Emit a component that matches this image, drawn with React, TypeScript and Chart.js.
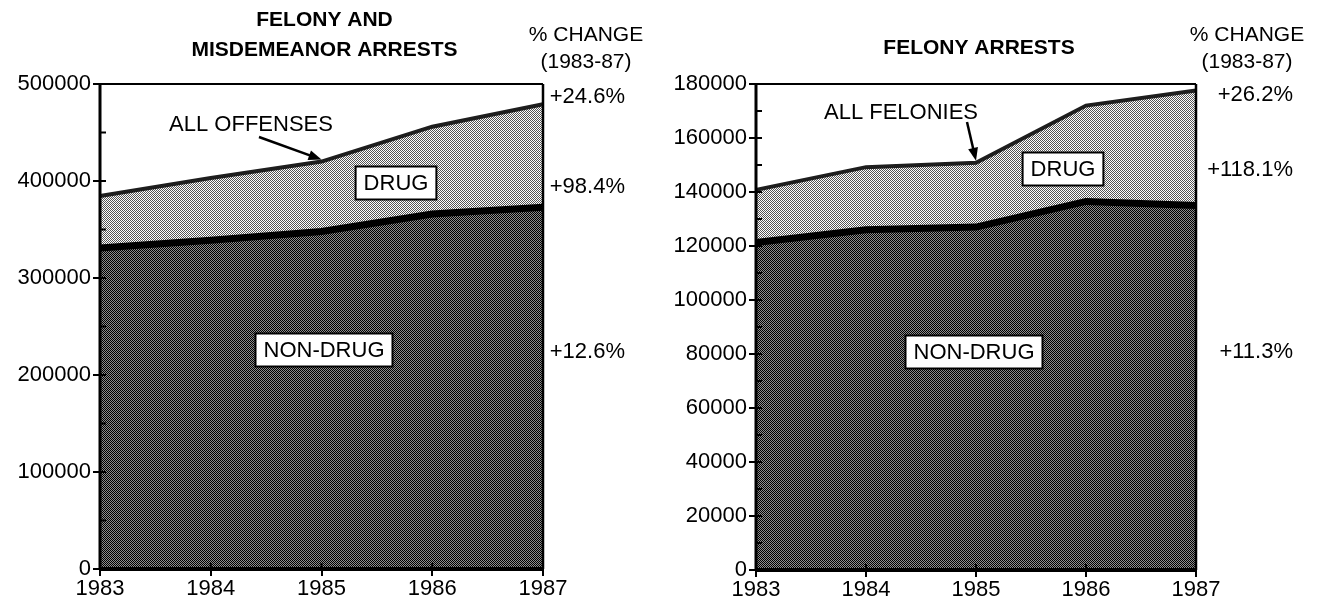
import React, { useEffect, useRef } from 'react';
import { Chart, registerables } from 'chart.js';

Chart.register(...registerables);

// ---------- data ----------
const years = ['1983', '1984', '1985', '1986', '1987'];

// Felony and misdemeanor arrests
const allNonDrug = [331000, 339000, 348000, 366000, 373000];
const allDrug = [53500, 64000, 72000, 90000, 106100];
const allChange = ['+24.6%', '+98.4%', '+12.6%'];
const allTitle = ['FELONY AND', 'MISDEMEANOR ARRESTS'];

// Felony arrests
const felNonDrug = [121300, 126000, 127000, 136500, 135000];
const felDrug = [19500, 23200, 23800, 35500, 42600];
const felChange = ['+26.2%', '+118.1%', '+11.3%'];
const felTitle = ['FELONY ARRESTS'];

const changeHeader = ['% CHANGE', '(1983-87)'];
const FONT = "'Liberation Sans', Arial, Helvetica, sans-serif";

function makePattern(a: string, b: string) {
  const c = document.createElement('canvas');
  c.width = 2;
  c.height = 2;
  const x = c.getContext('2d')!;
  x.fillStyle = b;
  x.fillRect(0, 0, 2, 2);
  x.fillStyle = a;
  x.fillRect(0, 0, 1, 1);
  x.fillRect(1, 1, 1, 1);
  return x.createPattern(c, 'repeat')!;
}

type Cfg = {
  nonDrug: number[];
  drug: number[];
  yMax: number;
  yStep: number;
  title: string[];
  titleY: number[];
  change: string[];
  changeY: number[];
  changeRight: number;
  headerX: number;
  yWidth: number;
  padRight: number;
  xHeight: number;
  nonDrugBox: [number, number];
  drugBox: [number, number];
  callout: string;
  calloutPos: [number, number];
  arrowStart: [number, number];
};

function drawBoxLabel(ctx: CanvasRenderingContext2D, text: string, cx: number, cy: number) {
  ctx.font = `22px ${FONT}`;
  const w = ctx.measureText(text).width + 16;
  const h = 33;
  ctx.fillStyle = '#fff';
  ctx.fillRect(cx - w / 2, cy - h / 2, w, h);
  ctx.strokeStyle = '#000';
  ctx.lineWidth = 2;
  ctx.strokeRect(cx - w / 2, cy - h / 2, w, h);
  ctx.fillStyle = '#000';
  ctx.textAlign = 'center';
  ctx.textBaseline = 'middle';
  ctx.fillText(text, cx, cy + 1);
}

function buildChart(canvas: HTMLCanvasElement, cfg: Cfg) {
  const dark = makePattern('#000000', '#8e8e8e');
  const light = makePattern('#555555', '#ffffff');

  const decor = {
    id: 'decor',
    afterDatasetsDraw(chart: any) {
      const { ctx, chartArea: a, scales } = chart;
      const ys = scales.y;
      const xs = scales.x;
      ctx.save();
      ctx.strokeStyle = '#000';
      ctx.lineCap = 'butt';
      // frame
      ctx.lineWidth = 2;
      ctx.beginPath();
      ctx.moveTo(a.left, a.top);
      ctx.lineTo(a.right, a.top);
      ctx.stroke();
      ctx.lineWidth = 2.5;
      ctx.beginPath();
      ctx.moveTo(a.right, a.top);
      ctx.lineTo(a.right, a.bottom);
      ctx.stroke();
      ctx.lineWidth = 3;
      ctx.beginPath();
      ctx.moveTo(a.left, a.top - 1);
      ctx.lineTo(a.left, a.bottom);
      ctx.stroke();
      ctx.lineWidth = 4;
      ctx.beginPath();
      ctx.moveTo(a.left - 1, a.bottom);
      ctx.lineTo(a.right + 1, a.bottom);
      ctx.stroke();
      // inward ticks (major + minor) on y
      ctx.lineWidth = 2;
      for (let v = 0; v <= cfg.yMax; v += cfg.yStep / 2) {
        const y = ys.getPixelForValue(v);
        ctx.beginPath();
        ctx.moveTo(a.left, y);
        ctx.lineTo(a.left + 6, y);
        ctx.stroke();
      }
      // inward ticks on x
      for (let i = 0; i < years.length; i++) {
        const x = xs.getPixelForValue(i);
        ctx.beginPath();
        ctx.moveTo(x, a.bottom);
        ctx.lineTo(x, a.bottom - 6);
        ctx.stroke();
      }

      // titles
      ctx.fillStyle = '#000';
      ctx.textAlign = 'center';
      ctx.textBaseline = 'middle';
      ctx.font = `bold 21px ${FONT}`;
      cfg.title.forEach((t, i) => ctx.fillText(t, (a.left + a.right) / 2 + 3, cfg.titleY[i]));
      ctx.font = `21px ${FONT}`;
      ctx.fillText(changeHeader[0], cfg.headerX, 35);
      ctx.fillText(changeHeader[1], cfg.headerX, 62);

      // percentage changes
      ctx.font = `22px ${FONT}`;
      ctx.textAlign = 'right';
      cfg.change.forEach((t, i) => ctx.fillText(t, cfg.changeRight, cfg.changeY[i]));

      // boxed labels
      drawBoxLabel(ctx, 'NON-DRUG', cfg.nonDrugBox[0], cfg.nonDrugBox[1]);
      drawBoxLabel(ctx, 'DRUG', cfg.drugBox[0], cfg.drugBox[1]);

      // callout
      ctx.font = `22px ${FONT}`;
      ctx.textAlign = 'center';
      ctx.fillStyle = '#000';
      ctx.fillText(cfg.callout, cfg.calloutPos[0], cfg.calloutPos[1]);
      const tx = xs.getPixelForValue(2);
      const ty = ys.getPixelForValue(cfg.nonDrug[2] + cfg.drug[2]) - 2;
      const [sx, sy] = cfg.arrowStart;
      const ang = Math.atan2(ty - sy, tx - sx);
      ctx.lineWidth = 2.5;
      ctx.beginPath();
      ctx.moveTo(sx, sy);
      ctx.lineTo(tx - Math.cos(ang) * 8, ty - Math.sin(ang) * 8);
      ctx.stroke();
      ctx.beginPath();
      ctx.moveTo(tx, ty);
      ctx.lineTo(tx - Math.cos(ang) * 13 + Math.sin(ang) * 5, ty - Math.sin(ang) * 13 - Math.cos(ang) * 5);
      ctx.lineTo(tx - Math.cos(ang) * 13 - Math.sin(ang) * 5, ty - Math.sin(ang) * 13 + Math.cos(ang) * 5);
      ctx.closePath();
      ctx.fill();
      ctx.restore();
    },
  };

  return new Chart(canvas, {
    type: 'line',
    data: {
      labels: years,
      datasets: [
        {
          label: 'NON-DRUG',
          data: cfg.nonDrug,
          fill: 'origin',
          backgroundColor: dark,
          borderColor: '#000',
          borderWidth: 7,
          pointRadius: 0,
          tension: 0,
        },
        {
          label: 'DRUG',
          data: cfg.drug,
          fill: '-1',
          backgroundColor: light,
          borderColor: '#1e1e1e',
          borderWidth: 4,
          pointRadius: 0,
          tension: 0,
        },
      ],
    },
    options: {
      animation: false,
      responsive: false,
      devicePixelRatio: 1,
      layout: { padding: { top: 84, left: 0, right: cfg.padRight, bottom: 0 } },
      plugins: { legend: { display: false }, tooltip: { enabled: false }, title: { display: false } },
      scales: {
        x: {
          grid: { drawOnChartArea: false, color: '#000', lineWidth: 2, tickLength: 7 },
          border: { display: false },
          ticks: { color: '#000', font: { size: 22, family: FONT }, padding: 0, maxRotation: 0, autoSkip: false },
          afterFit: (s: any) => {
            s.height = cfg.xHeight;
          },
        },
        y: {
          stacked: true,
          min: 0,
          max: cfg.yMax,
          grid: { drawOnChartArea: false, color: '#000', lineWidth: 2, tickLength: 7 },
          border: { display: false },
          ticks: {
            stepSize: cfg.yStep,
            color: '#000',
            font: { size: 22, family: FONT },
            padding: 2,
            callback: (v: any) => String(v),
          },
          afterFit: (s: any) => {
            s.width = cfg.yWidth;
          },
        },
      },
    },
    plugins: [decor],
  } as any);
}

const leftCfg: Cfg = {
  nonDrug: allNonDrug,
  drug: allDrug,
  yMax: 500000,
  yStep: 100000,
  title: allTitle,
  titleY: [20, 50],
  change: allChange,
  changeY: [97, 187, 352],
  changeRight: 625,
  headerX: 586,
  yWidth: 100,
  padRight: 117,
  xHeight: 30,
  nonDrugBox: [324, 350],
  drugBox: [396, 183],
  callout: 'ALL OFFENSES',
  calloutPos: [251, 125],
  arrowStart: [259, 137],
};

const rightCfg: Cfg = {
  nonDrug: felNonDrug,
  drug: felDrug,
  yMax: 180000,
  yStep: 20000,
  title: felTitle,
  titleY: [48],
  change: felChange,
  changeY: [95, 170, 352],
  changeRight: 633,
  headerX: 587,
  yWidth: 96,
  padRight: 121,
  xHeight: 29,
  nonDrugBox: [314, 352],
  drugBox: [403, 169],
  callout: 'ALL FELONIES',
  calloutPos: [241, 113],
  arrowStart: [307, 122],
};

export default function App() {
  const leftRef = useRef<HTMLCanvasElement>(null);
  const rightRef = useRef<HTMLCanvasElement>(null);

  useEffect(() => {
    const c1 = buildChart(leftRef.current!, leftCfg);
    const c2 = buildChart(rightRef.current!, rightCfg);
    return () => {
      c1.destroy();
      c2.destroy();
    };
  }, []);

  return (
    <div style={{ position: 'absolute', left: 0, top: 0, width: 1317, height: 599, background: '#fff' }}>
      <canvas ref={leftRef} width={660} height={599} style={{ position: 'absolute', left: 0, top: 0, width: 660, height: 599 }} />
      <canvas ref={rightRef} width={657} height={599} style={{ position: 'absolute', left: 660, top: 0, width: 657, height: 599 }} />
    </div>
  );
}
